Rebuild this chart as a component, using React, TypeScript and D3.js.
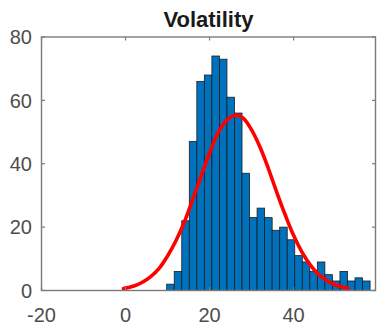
import React from "react";
import * as d3 from "d3";

// Histogram of volatility (bin counts), uniform bins
const binStart = 9.8;
const binWidth = 1.793;
const binCounts = [2, 6, 22, 47, 66, 68, 74, 73, 61, 56, 37, 23, 26, 23, 19, 20, 16, 11, 9, 6, 9, 5, 3, 6, 3, 4, 3];

// Fitted distribution curve
const fitX = [-0.5, 2, 4, 6, 8, 10, 12, 14, 16, 18, 20, 22, 24, 26.3, 28, 30, 32, 34, 36, 38, 40, 42, 44, 46, 48, 50, 53];
const fitY = [0.6, 1.4, 2.6, 4.4, 7.0, 10.9, 15.7, 21.6, 28.8, 36.1, 43.4, 49.7, 53.6, 55.4, 54.4, 50.7, 45.3, 38.5, 31.0, 23.9, 17.4, 12.1, 8.0, 5.0, 3.05, 1.75, 0.68];

const xTicks = [-20, 0, 20, 40];
const yTicks = [0, 20, 40, 60, 80];
const title = "Volatility";

const W = 385;
const H = 331;
const L = 41.5, R = 375.5, T = 37, B = 290.5;

export default function App() {
  const x = d3.scaleLinear().domain([-20, 59.5]).range([L, R]);
  const y = d3.scaleLinear().domain([0, 80]).range([B, T]);
  const bins = binCounts.map((c, i) => ({ x0: binStart + i * binWidth, x1: binStart + (i + 1) * binWidth, c }));
  const line = d3
    .line<number>()
    .x((_, i) => x(fitX[i]))
    .y((d) => y(d))
    .curve(d3.curveCatmullRom);
  const axisColor = "#7a7a7a";
  const font = "'Liberation Sans', Arial, Helvetica, sans-serif";
  return (
    <svg width={W} height={H} style={{ position: "absolute", left: 0, top: 0, background: "#fff" }}>
      <text x={(L + R) / 2} y={27} textAnchor="middle" fontFamily={font} fontWeight="bold" fontSize={22} fill="#1a1a1a">
        {title}
      </text>
      {bins.map((b, i) => (
        <rect
          key={i}
          x={x(b.x0)}
          y={y(b.c)}
          width={x(b.x1) - x(b.x0)}
          height={y(0) - y(b.c)}
          fill="#0072BD"
          stroke="#1c1c1c"
          strokeWidth={0.8}
        />
      ))}
      <path d={line(fitY) || ""} fill="none" stroke="#ff0000" strokeWidth={3.6} strokeLinecap="round" />
      {/* axes box */}
      <rect x={L} y={T} width={R - L} height={B - T} fill="none" stroke={axisColor} strokeWidth={1.4} />
      {yTicks.map((t) => (
        <g key={"y" + t}>
          <line x1={L} x2={L + 3.5} y1={y(t)} y2={y(t)} stroke={axisColor} strokeWidth={1.2} />
          <line x1={R} x2={R - 3.5} y1={y(t)} y2={y(t)} stroke={axisColor} strokeWidth={1.2} />
          <text x={32} y={y(t)} dy="0.36em" textAnchor="end" fontFamily={font} fontSize={20} fill="#4d4d4d">
            {t}
          </text>
        </g>
      ))}
      {xTicks.map((t) => (
        <g key={"x" + t}>
          <line x1={x(t)} x2={x(t)} y1={T} y2={T + 3.5} stroke={axisColor} strokeWidth={1.2} />
          <line x1={x(t)} x2={x(t)} y1={B} y2={B - 3.5} stroke={axisColor} strokeWidth={1.2} />
          <text x={x(t)} y={322} textAnchor="middle" fontFamily={font} fontSize={20} fill="#4d4d4d">
            {t}
          </text>
        </g>
      ))}
    </svg>
  );
}
